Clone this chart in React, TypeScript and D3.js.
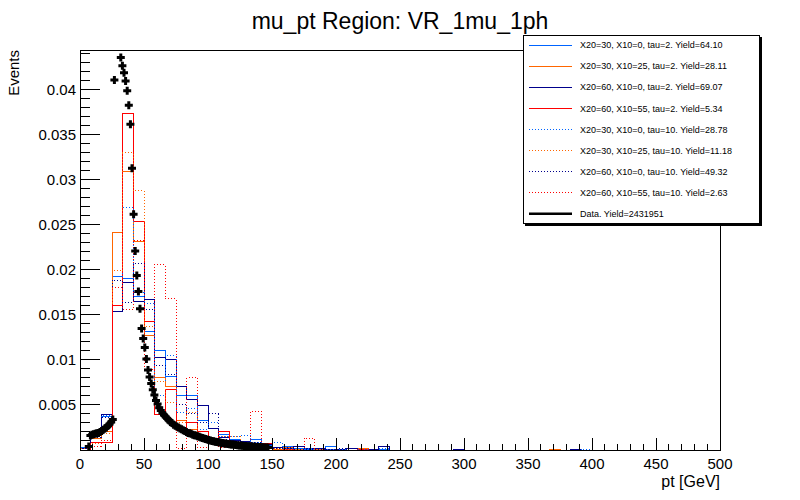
import React from 'react';
import * as d3 from 'd3';

const W = 800;
const H = 500;
const X_MAX = 500;
const Y_MAX = 0.04444;
const N_BINS = 60;

// MC histograms, 60 bins of 8.33 GeV between 0 and 500 GeV
const blueSolid = [0.0003, 0.0016, 0.0037, 0.0193, 0.0191, 0.0170, 0.0132, 0.0111, 0.0082, 0.0060, 0.0060, 0.0033, 0.0024, 0.0017, 0.0012, 0.0008, 0.0012, 0.0005, 0.0003, 0.0004, 0.0002, 0.0001, 0.0002, 0.0004, 0.0001, 0.0002, 0.0001, 0, 0.0001, 0, 0, 0, 0, 0, 0, 0, 0, 0, 0, 0, 0, 0, 0, 0, 0, 0, 0, 0, 0, 0, 0, 0, 0, 0, 0, 0, 0, 0, 0, 0];
const orangeSolid = [0.0002, 0.0013, 0.0020, 0.0242, 0.0309, 0.0232, 0.0127, 0.0080, 0.0070, 0.0033, 0.0023, 0.0015, 0.0012, 0.0008, 0.0006, 0.0005, 0.0003, 0.0002, 0.0001, 0.00025, 0.0001, 0, 0.0001, 0, 0, 0, 0.0002, 0, 0, 0, 0, 0, 0, 0, 0, 0, 0, 0, 0, 0, 0, 0, 0, 0, 0.0001, 0, 0, 0, 0, 0, 0, 0, 0, 0, 0, 0, 0, 0, 0, 0];
const navySolid = [0.0002, 0.0017, 0.0039, 0.0154, 0.0186, 0.0165, 0.0167, 0.0103, 0.0101, 0.0071, 0.0056, 0.0049, 0.0024, 0.0014, 0.0010, 0.0009, 0.0006, 0.0006, 0.0003, 0.0002, 0.0004, 0.0002, 0.0002, 0.0001, 0.0001, 0.0002, 0.0001, 0.0001, 0.0004, 0, 0, 0, 0, 0, 0, 0.0001, 0, 0, 0, 0, 0, 0, 0, 0, 0, 0, 0.0001, 0, 0, 0, 0, 0, 0, 0, 0, 0, 0, 0, 0, 0];
const redSolid = [0, 0.00085, 0.00085, 0.0160, 0.0374, 0.0254, 0.0143, 0.0039, 0.0067, 0.0022, 0.0030, 0.0020, 0.0010, 0.0021, 0.0005, 0.0003, 0.0002, 0.00067, 0, 0.0001, 0, 0, 0, 0, 0, 0, 0.0001, 0, 0, 0, 0, 0, 0, 0, 0, 0, 0, 0, 0, 0, 0, 0, 0, 0, 0, 0, 0, 0, 0, 0, 0, 0, 0, 0, 0, 0, 0, 0, 0, 0];
const blueDotted = [0.0002, 0.0015, 0.0038, 0.0193, 0.0269, 0.0175, 0.0163, 0.0060, 0.0105, 0.0042, 0.0046, 0.0023, 0.0031, 0.0015, 0.0015, 0.0016, 0.0008, 0.0004, 0.00085, 0.0002, 0.0001, 0.0002, 0, 0.0001, 0.0001, 0, 0.0001, 0, 0.0002, 0, 0, 0, 0, 0, 0, 0, 0, 0, 0, 0, 0, 0, 0, 0, 0, 0, 0, 0.0001, 0, 0, 0, 0, 0, 0, 0, 0, 0, 0, 0, 0];
const orangeDotted = [0.0002, 0.0007, 0.0018, 0.0199, 0.0330, 0.0288, 0.0137, 0.0076, 0.0053, 0.0030, 0.0042, 0.0012, 0.0010, 0.0015, 0.0015, 0.0005, 0.0002, 0.0003, 0.0002, 0.0001, 0, 0, 0, 0, 0, 0, 0, 0, 0, 0, 0, 0, 0, 0, 0, 0, 0, 0, 0, 0, 0, 0, 0, 0, 0, 0, 0, 0, 0, 0, 0, 0, 0, 0, 0, 0, 0, 0, 0, 0];
const navyDotted = [0, 0.0014, 0.0036, 0.01885, 0.0164, 0.0207, 0.0156, 0.0094, 0.0084, 0.0050, 0.0040, 0.0030, 0.0040, 0.0012, 0.0009, 0.0006, 0.00085, 0.0003, 0.0002, 0.0003, 0.0001, 0.0001, 0.0001, 0, 0.0002, 0, 0, 0, 0, 0, 0, 0, 0, 0, 0, 0, 0, 0, 0, 0, 0, 0, 0, 0, 0, 0, 0, 0, 0, 0, 0, 0, 0, 0, 0, 0, 0, 0, 0, 0];
const redDotted = [0, 0.0004, 0.0010, 0.0181, 0.0156, 0.0233, 0.0089, 0.0206, 0.0168, 0.0002, 0.0080, 0.0003, 0.0010, 0.0003, 0.0003, 0.0002, 0.0043, 0, 0, 0, 0, 0.0013, 0, 0, 0, 0, 0, 0, 0, 0, 0, 0, 0, 0, 0, 0, 0, 0, 0, 0, 0, 0, 0, 0, 0, 0, 0, 0, 0, 0, 0, 0, 0, 0, 0, 0, 0, 0, 0, 0];

// Data points, bins of 1.25 GeV, first centre at 6.875 GeV
const DATA_FIRST_CENTER = 6.875;
const DATA_STEP = 1.25;
const dataValues = [
  0.0004, 0.0016, 0.0017, 0.00175, 0.0018, 0.00185, 0.0019, 0.0020, 0.0021, 0.00225,
  0.0024, 0.0025, 0.0027, 0.0029, 0.0031, 0.0034, 0.0411, 0.0458, 0.0462, 0.0449,
  0.0436, 0.0427, 0.0419, 0.0410, 0.0399, 0.0383, 0.0362, 0.0313, 0.0262, 0.0221,
  0.0194, 0.0176, 0.0157, 0.0135, 0.0124, 0.0114, 0.0101, 0.0089, 0.0081, 0.0074,
  0.0067, 0.0061, 0.0055, 0.0051, 0.0047, 0.0044, 0.0041, 0.0039, 0.0037, 0.0035,
  0.0033, 0.0031, 0.0030, 0.0028, 0.0027, 0.0026, 0.0025, 0.0024, 0.0023, 0.0022,
  0.0021, 0.0020, 0.0019, 0.00185, 0.0018, 0.0017, 0.00165, 0.0016, 0.00152, 0.00146,
  0.0014, 0.00134, 0.00128, 0.00122, 0.00116, 0.00111, 0.00106, 0.00101, 0.00097, 0.00093,
  0.00089, 0.00085, 0.00082, 0.00079, 0.00076, 0.00073, 0.0007, 0.00067, 0.00064, 0.00062,
  0.0006, 0.00057, 0.00055, 0.00053, 0.00051, 0.00049, 0.00047, 0.00045, 0.00044, 0.00042,
  0.00041, 0.00039, 0.00038, 0.00036, 0.00035, 0.00034, 0.00033, 0.00032, 0.00031, 0.0003,
  0.00029, 0.00028, 0.00027,
];

const legendLabels = [
  'X20=30, X10=0, tau=2. Yield=64.10',
  'X20=30, X10=25, tau=2. Yield=28.11',
  'X20=60, X10=0, tau=2. Yield=69.07',
  'X20=60, X10=55, tau=2. Yield=5.34',
  'X20=30, X10=0, tau=10. Yield=28.78',
  'X20=30, X10=25, tau=10. Yield=11.18',
  'X20=60, X10=0, tau=10. Yield=49.32',
  'X20=60, X10=55, tau=10. Yield=2.63',
];
const dataLabel = 'Data. Yield=2431951';
const seriesColors = ['#0064ff', '#ff6600', '#00008c', '#ff0000', '#0064ff', '#ff6600', '#00008c', '#ff0000'];
const seriesDotted = [false, false, false, false, true, true, true, true];
const seriesValues = [blueSolid, orangeSolid, navySolid, redSolid, blueDotted, orangeDotted, navyDotted, redDotted];

const xMajorTicks = d3.range(0, 501, 50);
const xMinorTicks = d3.range(0, 501, 10);
const yMajorTicks = [0.005, 0.01, 0.015, 0.02, 0.025, 0.03, 0.035, 0.04];
const yTickLabels = ['0.005', '0.01', '0.015', '0.02', '0.025', '0.03', '0.035', '0.04'];

const FONT = "'Liberation Sans', Arial, Helvetica, sans-serif";

export default function App() {
  const left = 80, right = 720, top = 50, bottom = 450;
  const x = d3.scaleLinear().domain([0, X_MAX]).range([left, right]);
  const y = d3.scaleLinear().domain([0, Y_MAX]).range([bottom, top]);
  const binW = X_MAX / N_BINS;

  const histLine = d3
    .line<[number, number]>()
    .x((d) => x(d[0]))
    .y((d) => y(d[1]))
    .curve(d3.curveStepAfter);

  const histPath = (vals: number[]) => {
    const pts: [number, number][] = [[0, 0]];
    vals.forEach((v, i) => pts.push([i * binW, v]));
    pts.push([X_MAX, vals[vals.length - 1]]);
    pts.push([X_MAX, 0]);
    return histLine(pts) || '';
  };

  const yMinor: number[] = [];
  for (let i = 0; i <= 44; i++) yMinor.push(i * 0.001);

  const cross = (cx: number, cy: number) =>
    `M${cx - 1.5},${cy - 4}h3v2.5h2.5v3h-2.5v2.5h-3v-2.5h-2.5v-3h2.5z`;

  const legendRowY = (i: number) => 45 + i * 21.1;

  return (
    <svg
      width={W}
      height={H}
      style={{ position: 'absolute', left: 0, top: 0, background: '#fff' }}
      fontFamily={FONT}
    >
      <rect x={0} y={0} width={W} height={H} fill="#fff" />
      <defs>
        <clipPath id="plotClip">
          <rect x={left} y={top} width={right - left} height={bottom - top + 1} />
        </clipPath>
      </defs>

      <text x={400} y={29} fontSize={23} textAnchor="middle" fill="#000">
        mu_pt Region: VR_1mu_1ph
      </text>

      <g clipPath="url(#plotClip)">
        {seriesValues.map((vals, i) => (
          <path
            key={i}
            d={histPath(vals)}
            fill="none"
            stroke={seriesColors[i]}
            strokeWidth={1}
            strokeDasharray={seriesDotted[i] ? '1 2' : undefined}
            shapeRendering="crispEdges"
          />
        ))}
        {dataValues.map((v, i) => {
          if (v > Y_MAX) return null;
          const cx = x(DATA_FIRST_CENTER + i * DATA_STEP);
          const cy = y(v);
          return <path key={'d' + i} d={cross(cx, cy)} fill="#000" />;
        })}
      </g>

      {/* frame */}
      <rect
        x={left}
        y={top}
        width={right - left}
        height={bottom - top}
        fill="none"
        stroke="#000"
        strokeWidth={1}
        shapeRendering="crispEdges"
      />

      {/* y ticks */}
      {yMinor.map((t, i) => (
        <line
          key={'ym' + i}
          x1={left}
          x2={left + (i % 5 === 0 ? 20 : 10)}
          y1={y(t)}
          y2={y(t)}
          stroke="#000"
          shapeRendering="crispEdges"
        />
      ))}
      {yMajorTicks.map((t, i) => (
        <text key={'yl' + i} x={76} y={y(t) + 5.5} fontSize={15} textAnchor="end" fill="#000">
          {yTickLabels[i]}
        </text>
      ))}

      {/* x ticks */}
      {xMinorTicks.map((t, i) => (
        <line
          key={'xm' + i}
          x1={x(t)}
          x2={x(t)}
          y1={bottom}
          y2={bottom - (t % 50 === 0 ? 12 : 6)}
          stroke="#000"
          shapeRendering="crispEdges"
        />
      ))}
      {xMajorTicks.map((t, i) => (
        <text key={'xl' + i} x={x(t)} y={469} fontSize={15} textAnchor="middle" fill="#000">
          {t}
        </text>
      ))}

      <text x={right} y={487} fontSize={16} textAnchor="end" fill="#000">
        pt [GeV]
      </text>
      <text
        transform={`translate(19,${top}) rotate(-90)`}
        fontSize={15}
        textAnchor="end"
        fill="#000"
      >
        Events
      </text>

      {/* legend */}
      <rect x={525} y={37} width={237} height={189} fill="#000" />
      <rect x={523.5} y={35.5} width={236} height={188} fill="#fff" stroke="#000" strokeWidth={1} />
      {legendLabels.map((lab, i) => (
        <g key={'lg' + i}>
          <line
            x1={529}
            x2={572}
            y1={legendRowY(i)}
            y2={legendRowY(i)}
            stroke={seriesColors[i]}
            strokeWidth={1}
            strokeDasharray={seriesDotted[i] ? '1 2' : undefined}
            shapeRendering="crispEdges"
          />
          <text x={580} y={legendRowY(i) + 3.2} fontSize={9} fill="#000">
            {lab}
          </text>
        </g>
      ))}
      <line x1={529} x2={572} y1={legendRowY(8)} y2={legendRowY(8)} stroke="#000" strokeWidth={2.5} />
      <text x={580} y={legendRowY(8) + 3.2} fontSize={9} fill="#000">
        {dataLabel}
      </text>
    </svg>
  );
}
